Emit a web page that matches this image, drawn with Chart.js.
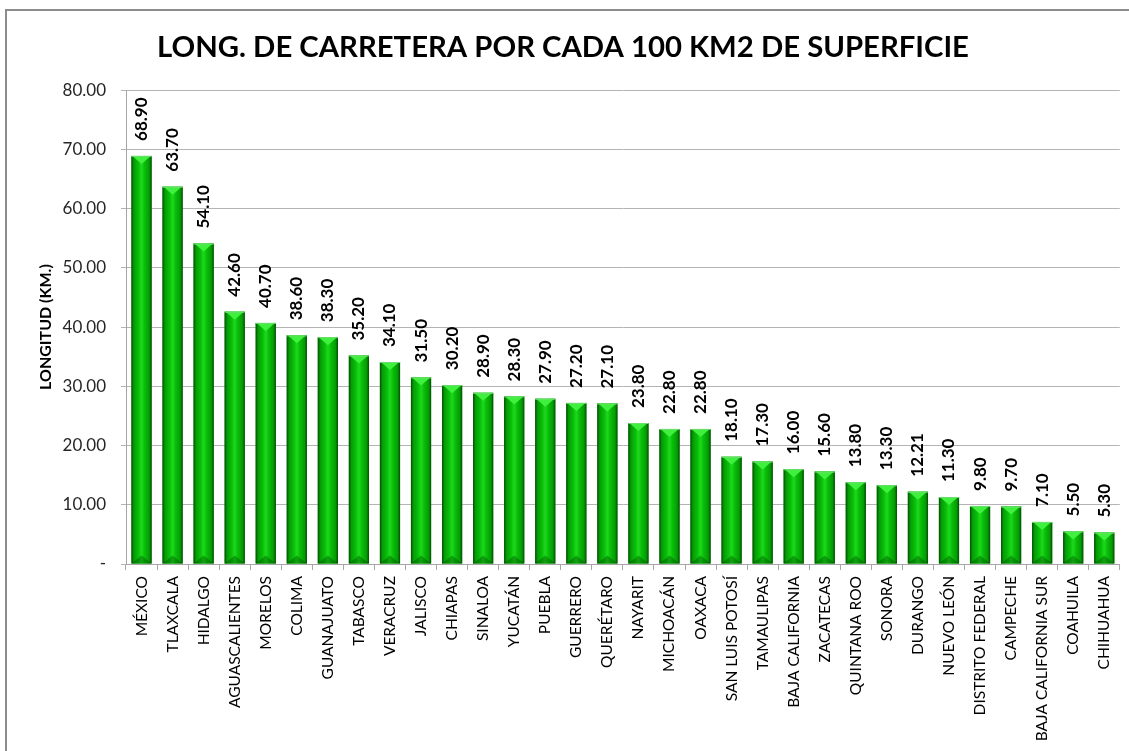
<!DOCTYPE html>
<html>
<head>
<meta charset="utf-8">
<script src="https://cdn.jsdelivr.net/npm/chart.js@4.4.0/dist/chart.umd.min.js"></script>
<style>
  body { margin: 0; background: #fff; overflow: hidden; }
</style>
</head>
<body>
<canvas id="roadChart" width="1129" height="751"></canvas>
<script>
const estados = ['MÉXICO', 'TLAXCALA', 'HIDALGO', 'AGUASCALIENTES', 'MORELOS', 'COLIMA', 'GUANAJUATO', 'TABASCO',
  'VERACRUZ', 'JALISCO', 'CHIAPAS', 'SINALOA', 'YUCATÁN', 'PUEBLA', 'GUERRERO', 'QUERÉTARO',
  'NAYARIT', 'MICHOACÁN', 'OAXACA', 'SAN LUIS POTOSÍ', 'TAMAULIPAS', 'BAJA CALIFORNIA', 'ZACATECAS', 'QUINTANA ROO',
  'SONORA', 'DURANGO', 'NUEVO LEÓN', 'DISTRITO FEDERAL', 'CAMPECHE', 'BAJA CALIFORNIA SUR', 'COAHUILA', 'CHIHUAHUA'];
const longitud = [68.90, 63.70, 54.10, 42.60, 40.70, 38.60, 38.30, 35.20,
  34.10, 31.50, 30.20, 28.90, 28.30, 27.90, 27.20, 27.10,
  23.80, 22.80, 22.80, 18.10, 17.30, 16.00, 15.60, 13.80,
  13.30, 12.21, 11.30, 9.80, 9.70, 7.10, 5.50, 5.30];
const yTicks = [0, 10, 20, 30, 40, 50, 60, 70, 80];

// fondo blanco + marco gris del gráfico
const marco = {
  id: 'marco',
  beforeDraw(chart) {
    const c = chart.ctx;
    c.save();
    c.fillStyle = '#fff';
    c.fillRect(0, 0, chart.width, chart.height);
    c.strokeStyle = '#8c8c8c';
    c.lineWidth = 2;
    c.strokeRect(6, 10, chart.width + 20, chart.height + 20);
    c.restore();
  }
};

// barras con efecto cilindro y etiquetas verticales
const barras = {
  id: 'barras',
  afterDatasetsDraw(chart) {
    const c = chart.ctx;
    const meta = chart.getDatasetMeta(0);
    meta.data.forEach((bar, i) => {
      const { x, y, base, width } = bar.getProps(['x', 'y', 'base', 'width'], true);
      const l = x - width / 2, r = x + width / 2;
      const g = c.createLinearGradient(l, 0, r, 0);
      g.addColorStop(0, '#034d03');
      g.addColorStop(0.12, '#079a07');
      g.addColorStop(0.35, '#08bf08');
      g.addColorStop(0.5, '#1ed81e');
      g.addColorStop(0.65, '#08bf08');
      g.addColorStop(0.88, '#079a07');
      g.addColorStop(1, '#034d03');
      c.save();
      c.fillStyle = g;
      c.fillRect(l, y, width, base - y);
      // bisel superior
      c.fillStyle = '#3ff03f';
      c.beginPath();
      c.moveTo(l + 1, y);
      c.lineTo(r - 1, y);
      c.lineTo(x, y + 8);
      c.closePath();
      c.fill();
      c.fillStyle = 'rgba(0,60,0,0.35)';
      c.beginPath();
      c.moveTo(l, base);
      c.lineTo(r, base);
      c.lineTo(x, base - 8);
      c.closePath();
      c.fill();
      c.strokeStyle = '#6fdc6f';
      c.lineWidth = 1;
      c.beginPath();
      c.moveTo(l, y + 0.5);
      c.lineTo(r, y + 0.5);
      c.stroke();

      c.translate(x, y - 15);
      c.rotate(-Math.PI / 2);
      c.fillStyle = '#000';
      c.font = 'bold 17px Lato';
      c.textAlign = 'left';
      c.textBaseline = 'middle';
      c.fillText(longitud[i].toFixed(2), 0, 0);
      c.restore();
    });
  }
};

new Chart(document.getElementById('roadChart'), {
  type: 'bar',
  data: {
    labels: estados,
    datasets: [{
      data: longitud,
      backgroundColor: '#08b008',
      borderWidth: 0,
      barPercentage: 0.65,
      categoryPercentage: 1
    }]
  },
  options: {
    responsive: false,
    animation: false,
    layout: { padding: { top: 10, left: 6, right: 9, bottom: 0 } },
    plugins: {
      legend: { display: false },
      tooltip: { enabled: false },
      title: {
        display: true,
        text: 'LONG. DE CARRETERA POR CADA 100 KM2 DE SUPERFICIE',
        color: '#000',
        font: { family: 'Lato', size: 29.3, weight: 'bold' },
        padding: { top: 20, bottom: 25 }
      }
    },
    scales: {
      x: {
        grid: { drawOnChartArea: false, color: '#a6a6a6', tickLength: 6, offset: true },
        border: { color: '#a6a6a6' },
        ticks: {
          autoSkip: false, maxRotation: 90, minRotation: 90, padding: 6,
          color: '#000', font: { family: 'Lato', size: 15.5 }
        },
        afterFit(scale) { scale.height = 187; }
      },
      y: {
        min: 0,
        max: 80,
        afterBuildTicks(scale) { scale.ticks = yTicks.map(v => ({ value: v })); },
        grid: { color: '#b4b4b4', tickLength: 5 },
        border: { color: '#a6a6a6' },
        ticks: {
          padding: 15,
          color: '#262626',
          font: { family: 'Lato', size: 17 },
          callback: v => v === 0 ? '-' : v.toFixed(2)
        },
        title: {
          display: true,
          text: 'LONGITUD (KM.)',
          color: '#000',
          font: { family: 'Lato', size: 16, weight: 'bold' },
          padding: { top: 30, bottom: 0 }
        },
        afterFit(scale) { scale.width = 120; }
      }
    }
  },
  plugins: [marco, barras]
});
</script>
</body>
</html>
